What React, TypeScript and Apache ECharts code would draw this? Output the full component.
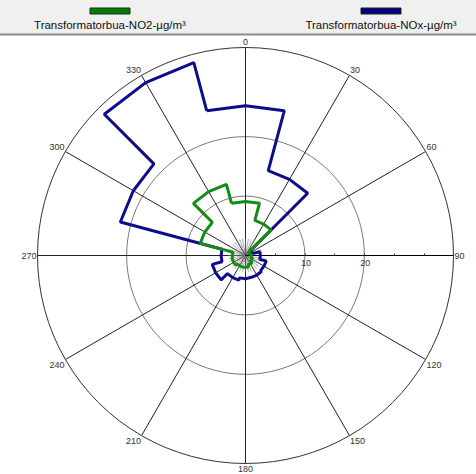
import React, { useEffect, useRef } from 'react';
import * as echarts from 'echarts';

// Wind directions (sector centres, degrees) and sector mean values
const directions = [0, 30, 60, 90, 120, 150, 180, 210, 240, 270, 300, 330];
const no2Values = [9.1, 6.1, 0.7, 1.0, 1.2, 1.6, 2.0, 2.0, 2.3, 2.2, 7.9, 12.4];
const noxValues = [25.2, 14.8, 1.2, 2.5, 3.6, 3.8, 3.9, 4.3, 5.8, 4.1, 21.8, 33.6];
const radiusLabels = [10, 20];
const seriesNames = ['Transformatorbua-NO2-µg/m³', 'Transformatorbua-NOx-µg/m³'];
const seriesColors = ['#138c13', '#0c0c8c'];
const legendColors = ['#008000', '#000080'];

const SECTOR = 30;
const CX = 245.5;
const CY = 255.5;
const R = 208;
const FONT = 'Liberation Sans, Arial, sans-serif';

function toAxisAngle(a: number) {
  const m = ((a % 360) + 360) % 360;
  return m < 90 ? m + 360 : m;
}

function roseLine(values: number[]) {
  const pts: number[][] = [];
  directions.forEach((d, i) => {
    const v = values[i];
    pts.push([v, toAxisAngle(d - SECTOR / 2)], [v, toAxisAngle(d)], [v, toAxisAngle(d + SECTOR / 2)]);
  });
  pts.push(pts[0]);
  return pts;
}

export default function App() {
  const ref = useRef<HTMLDivElement>(null);
  useEffect(() => {
    if (!ref.current) return;
    const chart = echarts.init(ref.current, undefined, { renderer: 'svg' });
    const transparent = 'rgba(0,0,0,0)';
    const legendGraphics: any[] = [
      { type: 'rect', shape: { x: 0, y: 0, width: 476, height: 34 }, style: { fill: '#f0f0f0' }, z: 10 },
      { type: 'line', shape: { x1: 0, y1: 34.5, x2: 476, y2: 34.5 }, style: { stroke: '#8c8c8c', lineWidth: 2 }, z: 10 },
      { type: 'rect', shape: { x: 90, y: 8, width: 40, height: 6 }, style: { fill: legendColors[0], stroke: '#222', lineWidth: 1 }, z: 11 },
      { type: 'rect', shape: { x: 361, y: 8, width: 40, height: 6 }, style: { fill: legendColors[1], stroke: '#222', lineWidth: 1 }, z: 11 },
      {
        type: 'text', x: 110, y: 25, z: 11,
        style: { text: seriesNames[0], fill: '#111', fontSize: 11.5, fontFamily: FONT, align: 'center', verticalAlign: 'middle' },
      },
      {
        type: 'text', x: 381, y: 25, z: 11,
        style: { text: seriesNames[1], fill: '#111', fontSize: 11.5, fontFamily: FONT, align: 'center', verticalAlign: 'middle' },
      },
    ];
    chart.setOption({
      animation: false,
      backgroundColor: '#ffffff',
      polar: [
        { center: [CX, CY], radius: R },
        { center: [CX, CY], radius: 17 },
      ],
      angleAxis: [
        {
          polarIndex: 0,
          type: 'value',
          min: 90,
          max: 450,
          interval: 30,
          startAngle: 0,
          clockwise: true,
          axisLine: { show: true, lineStyle: { color: '#333', width: 1 } },
          axisTick: { show: false },
          axisLabel: {
            show: true,
            margin: 1,
            fontSize: 9,
            color: '#333',
            fontFamily: FONT,
            formatter: (v: number) => (v === 450 ? '' : String(v % 360)),
          },
          splitLine: { show: true, lineStyle: { color: '#222', width: 1 } },
        },
        {
          polarIndex: 1,
          type: 'value',
          min: 0,
          max: 360,
          interval: 10,
          axisLine: { show: false },
          axisTick: { show: false },
          axisLabel: { show: false },
          splitLine: { show: true, lineStyle: { color: '#777', width: 0.6 } },
        },
      ],
      radiusAxis: [
        {
          polarIndex: 0,
          type: 'value',
          min: 0,
          max: 35,
          interval: 5,
          axisLine: { show: true, lineStyle: { color: '#000', width: 1 } },
          axisTick: { show: true, length: 2, inside: true, lineStyle: { color: '#333' } },
          axisLabel: { show: false },
          splitLine: {
            show: true,
            lineStyle: {
              color: [transparent, transparent, '#7a7a7a', transparent, '#7a7a7a', transparent, transparent, transparent],
              width: 1,
            },
          },
        },
        {
          polarIndex: 1,
          type: 'value',
          min: 0,
          max: 1,
          show: false,
        },
      ],
      series: [
        {
          name: seriesNames[1],
          type: 'line',
          coordinateSystem: 'polar',
          polarIndex: 0,
          data: roseLine(noxValues),
          showSymbol: false,
          symbol: 'none',
          lineStyle: { color: seriesColors[1], width: 3 },
          z: 3,
        },
        {
          name: seriesNames[0],
          type: 'line',
          coordinateSystem: 'polar',
          polarIndex: 0,
          data: roseLine(no2Values),
          showSymbol: false,
          symbol: 'none',
          lineStyle: { color: seriesColors[0], width: 3 },
          z: 4,
        },
      ],
      graphic: legendGraphics,
    });
    // radius labels below the 90° spoke, placed through the polar scale
    const radiusTexts = radiusLabels.map((v) => {
      const p = chart.convertToPixel({ polarIndex: 0 } as any, [v, 90]) as number[];
      return {
        type: 'text', x: p[0] + 1, y: p[1] + 3, z: 12,
        style: { text: String(v), fill: '#333', fontSize: 9, fontFamily: FONT, align: 'center', verticalAlign: 'top' },
      };
    });
    chart.setOption({ graphic: [...legendGraphics, ...radiusTexts] });
    return () => chart.dispose();
  }, []);
  return <div ref={ref} style={{ position: 'absolute', left: 0, top: 0, width: 476, height: 474 }} />;
}
